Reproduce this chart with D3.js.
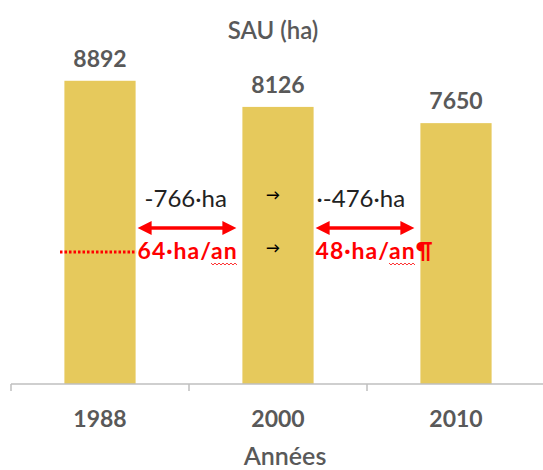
<!DOCTYPE html>
<html>
<head>
<meta charset="utf-8">
<script src="https://cdn.jsdelivr.net/npm/d3@7"></script>
<style>
  body { margin: 0; background: #fff; }
  svg text { font-family: Lato, 'Open Sans', sans-serif; }
</style>
</head>
<body>
<div class="container"></div>
<script>
const years = ['1988', '2000', '2010'];
const sau = [8892, 8126, 7650];
const diffLabels = ['-766·ha', '·-476·ha'];
const rateLabels = ['64·ha/an', '48·ha/an¶'];

const width = 543;
const height = 470;

const svg = d3.select('.container')
  .append('svg')
  .attr('width', width)
  .attr('height', height);

// plot area runs a little past the right edge of the picture
const xScale = d3.scaleBand()
  .domain(years)
  .range([11, 545])
  .paddingInner(0.6)
  .paddingOuter(0.3);

const yScale = d3.scaleLinear()
  .domain([0, 10000])
  .range([384, 43]);

const grey = '#595959';
const red = '#ff0000';

// title
svg.append('text')
  .attr('x', 273)
  .attr('y', 39)
  .attr('text-anchor', 'middle')
  .style('font-size', '24px')
  .style('font-weight', 600)
  .style('fill', grey)
  .text('SAU (ha)');

// bars
svg.selectAll('rect.bar')
  .data(years)
  .enter()
  .append('rect')
  .attr('class', 'bar')
  .attr('x', d => xScale(d))
  .attr('y', (d, i) => yScale(sau[i]))
  .attr('width', xScale.bandwidth())
  .attr('height', (d, i) => yScale(0) - yScale(sau[i]))
  .style('fill', '#e6c95c');

// value labels
svg.selectAll('text.value')
  .data(years)
  .enter()
  .append('text')
  .attr('class', 'value')
  .attr('x', d => xScale(d) + xScale.bandwidth() / 2)
  .attr('y', (d, i) => yScale(sau[i]) - 14)
  .attr('text-anchor', 'middle')
  .style('font-size', '23px')
  .style('font-weight', 'bold')
  .style('fill', grey)
  .text((d, i) => sau[i]);

// x axis
const step = xScale.step();
const axis = svg.append('g')
  .attr('id', 'x-axis')
  .attr('transform', `translate(0, ${yScale(0)})`)
  .call(d3.axisBottom(xScale).tickSize(0).tickPadding(27));
axis.select('.domain').remove();
axis.selectAll('text')
  .style('font-size', '23px')
  .style('font-weight', 'bold')
  .style('fill', grey);
axis.append('line')
  .attr('x1', 11).attr('x2', width)
  .attr('y1', 0).attr('y2', 0)
  .style('stroke', '#bfbfbf')
  .style('stroke-width', 1.5);
axis.selectAll('line.sep')
  .data(years)
  .enter()
  .append('line')
  .attr('class', 'sep')
  .attr('x1', d => xScale(d) - xScale.paddingOuter() * step)
  .attr('x2', d => xScale(d) - xScale.paddingOuter() * step)
  .attr('y1', 0).attr('y2', 7)
  .style('stroke', '#bfbfbf')
  .style('stroke-width', 1.5);

svg.append('text')
  .attr('x', 285)
  .attr('y', 465)
  .attr('text-anchor', 'middle')
  .style('font-size', '25px')
  .style('font-weight', 600)
  .style('fill', grey)
  .text('Années');

// annotations between bars
const defs = svg.append('defs');
['start', 'end'].forEach(k => {
  defs.append('marker')
    .attr('id', 'head-' + k)
    .attr('viewBox', '0 0 10 10')
    .attr('refX', 5).attr('refY', 5)
    .attr('markerWidth', 5).attr('markerHeight', 4)
    .attr('markerUnits', 'strokeWidth')
    .attr('orient', k === 'start' ? 'auto-start-reverse' : 'auto')
    .append('path')
    .attr('d', 'M0,0 L10,5 L0,10 Z')
    .style('fill', red);
});

const gaps = years.slice(0, -1).map((d, i) => ({
  left: xScale(d) + xScale.bandwidth(),
  right: xScale(years[i + 1])
}));

gaps.forEach((g, i) => {
  svg.append('line')
    .attr('x1', g.left + 9).attr('x2', g.right - 13)
    .attr('y1', 228).attr('y2', 228)
    .style('stroke', red)
    .style('stroke-width', 3.5)
    .attr('marker-start', 'url(#head-start)')
    .attr('marker-end', 'url(#head-end)');

  svg.append('text')
    .attr('x', g.left + (i === 0 ? 9 : 3))
    .attr('y', 207)
    .style('font-size', '24px')
    .style('fill', '#222')
    .text(diffLabels[i]);

  const rate = svg.append('text')
    .attr('x', g.left + 2)
    .attr('y', 259)
    .style('font-size', '23px')
    .style('font-weight', 'bold')
    .style('letter-spacing', '1px')
    .style('fill', red)
    .text(rateLabels[i]);

  // spell-check squiggle under "an"
  const node = rate.node();
  const idx = rateLabels[i].indexOf('an');
  const sx = g.left + 2 + node.getSubStringLength(0, idx);
  const sw = node.getSubStringLength(idx, 2);
  const pts = d3.range(0, sw + 1, 2).map((v, j) => [sx + v, 263 + (j % 2 ? 2 : 0)]);
  svg.append('path')
    .attr('d', d3.line()(pts))
    .style('fill', 'none')
    .style('stroke', red)
    .style('stroke-width', 0.8);
});

// small tab arrows on the 2000 bar
[200, 253].forEach(y => {
  svg.append('text')
    .attr('x', 273)
    .attr('y', y)
    .attr('text-anchor', 'middle')
    .style('font-size', '14px')
    .style('font-weight', 'bold')
    .style('fill', '#000')
    .text('→');
});

// dotted leader
svg.append('line')
  .attr('x1', 60).attr('x2', gaps[0].left + 1)
  .attr('y1', 252).attr('y2', 252)
  .style('stroke', red)
  .style('stroke-width', 3)
  .style('stroke-dasharray', '2.5 2');
</script>
</body>
</html>
